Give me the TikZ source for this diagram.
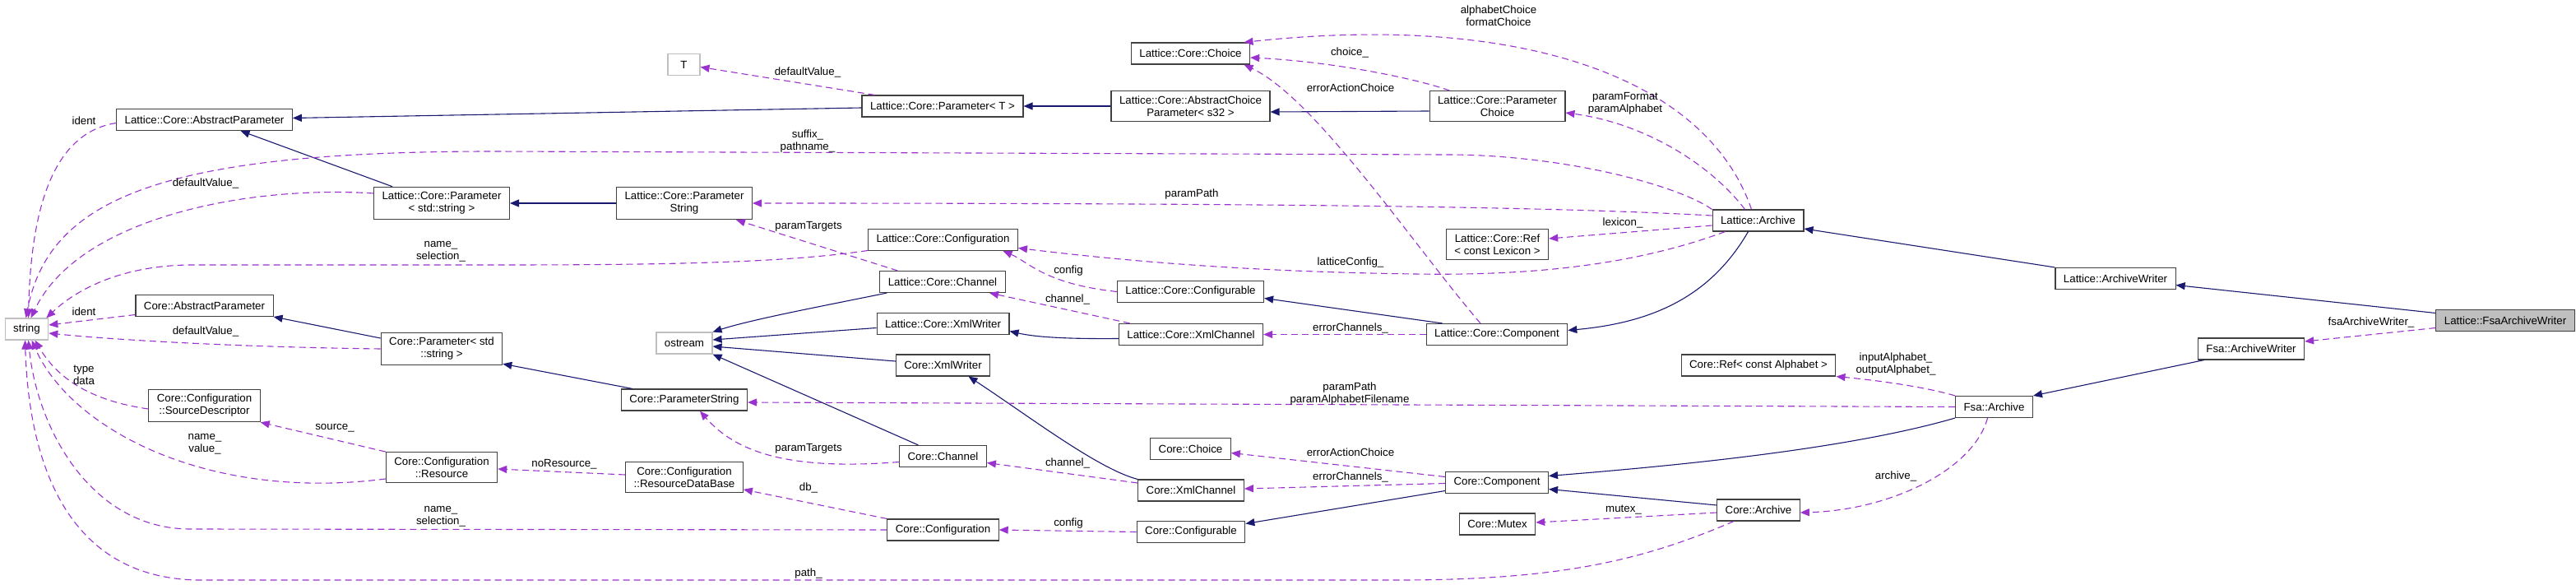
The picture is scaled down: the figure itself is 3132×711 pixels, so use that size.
\documentclass[tikz,border=0pt]{standalone}
\usepackage{fontspec}
\setmainfont{Liberation Sans}
\usepackage{tikz}
\usetikzlibrary{arrows.meta}
\definecolor{navy}{HTML}{191970}
\definecolor{orchid}{HTML}{9A32CD}
\definecolor{boxline}{HTML}{404040}
\definecolor{extline}{HTML}{BFBFBF}
\definecolor{focusfill}{HTML}{BFBFBF}
\newcommand{\dox}{\fontsize{13.3}{15}\selectfont}
\tikzset{
  clsbox/.style={draw=boxline,fill=white,line width=1.1pt,align=center,inner xsep=10pt,inner ysep=6pt,minimum height=26pt,font=\dox},
  extbox/.style={clsbox,draw=extline},
  focusbox/.style={clsbox,fill=focusfill},
  isaedge/.style={draw=navy,line width=1.1pt,-{Triangle[length=11pt,width=9pt]}},
  hasedge/.style={draw=orchid,line width=1.1pt,dash pattern=on 8pt off 5pt,-{Triangle[length=11pt,width=9pt]}},
  membtext/.style={align=center,inner sep=0pt,font=\dox}
}
\newcommand{\memlabel}[3]{\node[membtext] (#1) at (#2) {#3};}

\begin{document}
\begin{tikzpicture}[x=1pt,y=-1pt]
  \useasboundingbox (0,0) rectangle (3132,711);

  \node[extbox] (str) at (32.5,400) {string};
  \node[clsbox] (lcap) at (248.5,145.5) {Lattice::Core::AbstractParameter};
  \node[clsbox] (cap) at (248.5,371.5) {Core::AbstractParameter};
  \node[clsbox] (csd) at (248.5,493) {Core::Configuration\\::SourceDescriptor};
  \node[clsbox] (lcpstr) at (537,247) {Lattice::Core::Parameter\\< std::string >};
  \node[clsbox] (cpstr) at (537,424) {Core::Parameter< std\\::string >};
  \node[clsbox] (cres) at (537,568) {Core::Configuration\\::Resource};
  \node[extbox,minimum width=39pt] (tparam) at (831.5,78.5) {T};
  \node[clsbox] (lcps) at (832,247) {Lattice::Core::Parameter\\String};
  \node[extbox] (ostream) at (832,417) {ostream};
  \node[clsbox] (cps) at (832,486) {Core::ParameterString};
  \node[clsbox] (crdb) at (832,580) {Core::Configuration\\::ResourceDataBase};
  \node[clsbox] (lcpt) at (1146,129) {Lattice::Core::Parameter< T >};
  \node[clsbox] (lcconf) at (1146.5,291.5) {Lattice::Core::Configuration};
  \node[clsbox] (lcchan) at (1146,342.5) {Lattice::Core::Channel};
  \node[clsbox] (lcxw) at (1146.5,393.5) {Lattice::Core::XmlWriter};
  \node[clsbox] (cxw) at (1146.5,444) {Core::XmlWriter};
  \node[clsbox] (cchan) at (1146.5,554.5) {Core::Channel};
  \node[clsbox] (cconf) at (1146.5,644) {Core::Configuration};
  \node[clsbox] (lcchoice) at (1447.5,65) {Lattice::Core::Choice};
  \node[clsbox] (lcacp) at (1447.5,129) {Lattice::Core::AbstractChoice\\Parameter< s32 >};
  \node[clsbox] (lccfg) at (1447.5,354.5) {Lattice::Core::Configurable};
  \node[clsbox] (lcxc) at (1448,406.5) {Lattice::Core::XmlChannel};
  \node[clsbox] (cchoice) at (1447.5,545.5) {Core::Choice};
  \node[clsbox] (cxc) at (1448,596) {Core::XmlChannel};
  \node[clsbox] (ccfg) at (1448,646.5) {Core::Configurable};
  \node[clsbox] (lcpc) at (1820.5,129) {Lattice::Core::Parameter\\Choice};
  \node[clsbox] (lcref) at (1820.5,297) {Lattice::Core::Ref\\< const Lexicon >};
  \node[clsbox] (lccomp) at (1820,406.5) {Lattice::Core::Component};
  \node[clsbox] (ccomp) at (1820,586.5) {Core::Component};
  \node[clsbox] (cmutex) at (1820.5,637) {Core::Mutex};
  \node[clsbox] (larch) at (2137.5,268) {Lattice::Archive};
  \node[clsbox] (cref) at (2138,444) {Core::Ref< const Alphabet >};
  \node[clsbox] (carch) at (2138,620) {Core::Archive};
  \node[clsbox] (fsaarch) at (2424.5,494.5) {Fsa::Archive};
  \node[clsbox] (law) at (2572,338.5) {Lattice::ArchiveWriter};
  \node[clsbox] (faw) at (2737,424) {Fsa::ArchiveWriter};
  \node[focusbox] (lfaw) at (3046,389.5) {Lattice::FsaArchiveWriter};

  % base classes
  \draw[isaedge] ([yshift=-2pt]lcpt.west) -- ([yshift=2pt]lcap.east);
  \draw[isaedge] ([xshift=23pt]lcpstr.north west) -- ([xshift=44pt]lcap.south);
  \draw[isaedge] (lcps.west) -- (lcpstr.east);
  \draw[isaedge] (lcacp.west) -- (lcpt.east);
  \draw[isaedge] ([yshift=-6pt]lcpc.west) -- ([yshift=-7pt]lcacp.east);
  \draw[isaedge] ([xshift=9pt]lcchan.south west) .. controls (1000,372) and (915,388) .. (ostream.north east);
  \draw[isaedge] ([yshift=-5pt]lcxw.west) -- ([yshift=4pt]ostream.east);
  \draw[isaedge] ([yshift=5pt]cxw.west) -- ([yshift=-4pt]ostream.east);
  \draw[isaedge] ([xshift=-30pt]cchan.north) -- (ostream.south east);
  \draw[isaedge] ([yshift=-5pt]lcxc.west) .. controls (1300,412) and (1260,410) .. ([yshift=-9pt]lcxw.east);
  \draw[isaedge] ([xshift=20pt]lccomp.north west) -- ([yshift=-8pt]lccfg.east);
  \draw[isaedge] ([xshift=-12pt]larch.south) .. controls (2080,360) and (2010,392) .. ([yshift=5pt]lccomp.east);
  \draw[isaedge] (law.north west) -- ([yshift=-10pt]larch.east);
  \draw[isaedge] ([yshift=9pt]lfaw.west) -- ([yshift=-8pt]law.east);
  \draw[isaedge] ([xshift=8pt]faw.south west) -- (fsaarch.north east);
  \draw[isaedge] (fsaarch.south west) .. controls (2250,545) and (2050,565) .. ([yshift=8pt]ccomp.east);
  \draw[isaedge] ([yshift=6pt]carch.west) -- ([yshift=-8pt]ccomp.east);
  \draw[isaedge] ([yshift=-10pt]ccomp.west) -- ([yshift=10pt]ccfg.east);
  \draw[isaedge] (cxc.north west) .. controls (1335,570) and (1250,505) .. ([xshift=31pt]cxw.south);
  \draw[isaedge] ([yshift=13pt]cpstr.west) -- (cap.south east);
  \draw[isaedge] ([xshift=14pt]cps.north west) -- ([yshift=2pt]cpstr.south east);

  % members
  \draw[hasedge] ([yshift=-4pt]lcap.west) .. controls (75,160) and (38,230) .. ([xshift=2pt]str.north);
  \draw[hasedge] (larch.north west) .. controls (2040,225) and (1900,188) .. (1760,188) -- (600,184) .. controls (200,184) and (60,240) .. ([xshift=-1pt]str.north);
  \draw[hasedge] ([yshift=12pt]lcpstr.west) .. controls (300,225) and (95,265) .. ([xshift=5pt]str.north);
  \draw[hasedge] ([yshift=-13pt]lcconf.west) .. controls (950,320) and (800,322) .. (600,322) -- (230,322) .. controls (150,323) and (95,350) .. ([xshift=-3pt]str.north east);
  \draw[hasedge] ([yshift=-11pt]cap.west) -- ([yshift=5pt]str.east);
  \draw[hasedge] (cpstr.west) .. controls (300,422) and (150,414) .. ([yshift=-5pt]str.east);
  \draw[hasedge] ([yshift=-4pt]csd.west) .. controls (110,487) and (70,460) .. ([xshift=10pt]str.south);
  \draw[hasedge] ([yshift=-14pt]cres.west) .. controls (250,610) and (85,520) .. ([xshift=6pt]str.south);
  \draw[hasedge] (cconf.west) -- (230,643) .. controls (110,642) and (45,520) .. ([xshift=2pt]str.south);
  \draw[hasedge] ([xshift=-30pt]carch.south) .. controls (2000,680) and (1900,705) .. (1700,705) -- (240,705) .. controls (80,702) and (35,560) .. ([xshift=-2pt]str.south);
  \draw[hasedge] ([xshift=16pt]lcpt.north west) -- ([yshift=-3pt]tparam.east);
  \draw[hasedge] ([xshift=22pt]lcchan.north west) -- ([xshift=63pt]lcps.south);
  \draw[hasedge] ([yshift=6pt]larch.west) .. controls (1900,252) and (1600,247) .. (lcps.east);
  \draw[hasedge] ([xshift=-40pt]larch.south) .. controls (1980,325) and (1850,335) .. (1720,333) .. controls (1500,330) and (1350,315) .. ([yshift=-10pt]lcconf.east);
  \draw[hasedge] (lccfg.west) .. controls (1270,345) and (1250,318) .. ([xshift=73pt]lcconf.south);
  \draw[hasedge] ([xshift=14pt]lcxc.north west) -- ([xshift=57pt]lcchan.south);
  \draw[hasedge] (lccomp.west) -- (lcxc.east);
  \draw[hasedge] ([xshift=-20pt]lccomp.north) .. controls (1720,300) and (1600,120) .. ([xshift=65pt]lcchoice.south);
  \draw[hasedge] ([xshift=-58pt]lcpc.north) .. controls (1720,95) and (1620,75) .. ([yshift=-5pt]lcchoice.east);
  \draw[hasedge] ([xshift=-8pt]larch.north) .. controls (2075,95) and (1850,15) .. ([xshift=65pt]lcchoice.north);
  \draw[hasedge] ([xshift=-16pt]larch.north) .. controls (2080,200) and (2000,150) .. ([yshift=-8pt]lcpc.east);
  \draw[hasedge] ([yshift=-6pt]larch.west) -- ([yshift=7pt]lcref.east);
  \draw[hasedge] ([yshift=-9pt]lfaw.west) -- ([yshift=9pt]faw.east);
  \draw[hasedge] (fsaarch.north west) .. controls (2340,470) and (2280,462) .. (cref.south east);
  \draw[hasedge] (fsaarch.west) -- ([yshift=-3pt]cps.east);
  \draw[hasedge] ([xshift=-8pt]fsaarch.south) .. controls (2400,570) and (2300,620) .. ([yshift=-3pt]carch.east);
  \draw[hasedge] ([yshift=7pt]ccomp.west) -- ([yshift=-5pt]cchoice.east);
  \draw[hasedge] ([yshift=-1pt]ccomp.west) -- ([yshift=2pt]cxc.east);
  \draw[hasedge] ([yshift=-3pt]carch.west) -- ([yshift=2pt]cmutex.east);
  \draw[hasedge] ([yshift=9pt]cxc.west) -- ([yshift=-8pt]cchan.east);
  \draw[hasedge] ([yshift=-7pt]cchan.west) .. controls (960,572) and (895,550) .. ([xshift=19pt]cps.south);
  \draw[hasedge] (ccfg.west) -- (cconf.east);
  \draw[hasedge] (cconf.north west) -- ([yshift=4pt]crdb.south east);
  \draw[hasedge] ([yshift=3pt]crdb.west) -- ([yshift=-2pt]cres.east);
  \draw[hasedge] (cres.north west) -- (csd.south east);

  \memlabel{m1}{102,147}{ident}
  \memlabel{m2}{982,172}{suffix\_\\pathname\_}
  \memlabel{m3}{250,223}{defaultValue\_}
  \memlabel{m4}{536,306}{name\_\\selection\_}
  \memlabel{m5}{102,379}{ident}
  \memlabel{m6}{250,403}{defaultValue\_}
  \memlabel{m7}{102,456}{type\\data}
  \memlabel{m8}{407,520}{source\_}
  \memlabel{m9}{249,540}{name\_\\value\_}
  \memlabel{m10}{686,564}{noResource\_}
  \memlabel{m11}{536,628}{name\_\\selection\_}
  \memlabel{m12}{982,88}{defaultValue\_}
  \memlabel{m13}{1449,236}{paramPath}
  \memlabel{m14}{983,275}{paramTargets}
  \memlabel{m15}{1299,329}{config}
  \memlabel{m16}{1298,364}{channel\_}
  \memlabel{m17}{983,545}{paramTargets}
  \memlabel{m18}{1298,563}{channel\_}
  \memlabel{m19}{983,593}{db\_}
  \memlabel{m20}{1299,636}{config}
  \memlabel{m21}{983,697}{path\_}
  \memlabel{m22}{1822,19}{alphabetChoice\\formatChoice}
  \memlabel{m23}{1641,64}{choice\_}
  \memlabel{m24}{1642,107}{errorActionChoice}
  \memlabel{m25}{1976,126}{paramFormat\\paramAlphabet}
  \memlabel{m26}{1973,271}{lexicon\_}
  \memlabel{m27}{1642,319}{latticeConfig\_}
  \memlabel{m28}{1642,399}{errorChannels\_}
  \memlabel{m29}{2305,443}{inputAlphabet\_\\outputAlphabet\_}
  \memlabel{m30}{1641,479}{paramPath\\paramAlphabetFilename}
  \memlabel{m31}{1642,550}{errorActionChoice}
  \memlabel{m32}{1642,580}{errorChannels\_}
  \memlabel{m33}{2305,579}{archive\_}
  \memlabel{m34}{1974,620}{mutex\_}
  \memlabel{m35}{2883,392}{fsaArchiveWriter\_}
\end{tikzpicture}
\end{document}
